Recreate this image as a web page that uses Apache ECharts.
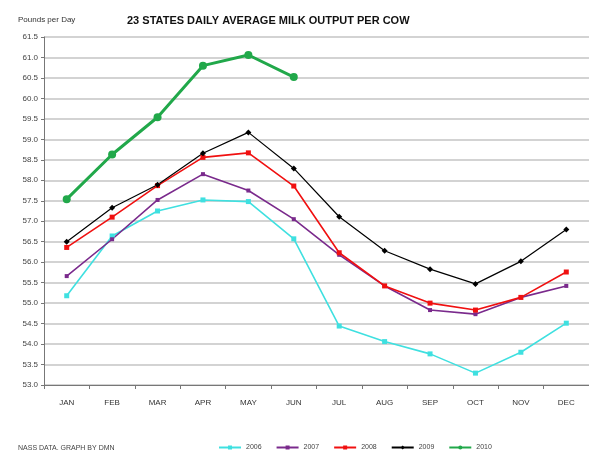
<!DOCTYPE html>
<html>
<head>
<meta charset="utf-8">
<script src="https://cdn.jsdelivr.net/npm/echarts@6/dist/echarts.min.js"></script>
<style>
  html, body { margin: 0; padding: 0; background: #fff; }
  #chart { width: 589px; height: 450px; }
</style>
</head>
<body>
<div id="chart"></div>
<script>
// months on the x axis
const months = ["JAN", "FEB", "MAR", "APR", "MAY", "JUN", "JUL", "AUG", "SEP", "OCT", "NOV", "DEC"];

// pounds per day
const y2006 = [55.18, 56.64, 57.25, 57.52, 57.48, 56.57, 54.44, 54.06, 53.76, 53.29, 53.80, 54.51];
const y2007 = [55.66, 56.56, 57.52, 58.15, 57.75, 57.05, 56.18, 55.42, 54.83, 54.73, 55.14, 55.42];
const y2008 = [56.36, 57.10, 57.87, 58.56, 58.67, 57.86, 56.23, 55.42, 55.00, 54.83, 55.14, 55.76];
const y2009 = [56.50, 57.33, 57.89, 58.66, 59.17, 58.29, 57.11, 56.28, 55.83, 55.47, 56.02, 56.80];
const y2010 = [57.54, 58.63, 59.54, 60.80, 61.06, 60.52];

const chart = echarts.init(document.getElementById("chart"));
const font = "Liberation Sans, Arial, sans-serif";

function line(name, data, color, symbol, size, width) {
  return {
    name: name,
    type: "line",
    data: data,
    symbol: symbol,
    symbolSize: size,
    showSymbol: true,
    lineStyle: { color: color, width: width },
    itemStyle: { color: color },
    emphasis: { disabled: true },
    animation: false,
  };
}

chart.setOption({
  animation: false,
  textStyle: { fontFamily: font },
  title: [
    {
      text: "23 STATES DAILY AVERAGE MILK OUTPUT PER COW",
      left: 122,
      top: 10,
      textStyle: { fontSize: 11, fontWeight: "bold", color: "#111", fontFamily: font },
    },
    {
      text: "Pounds per Day",
      left: 13,
      top: 11,
      textStyle: { fontSize: 8, fontWeight: "normal", color: "#333", fontFamily: font },
    },
    {
      text: "NASS DATA, GRAPH BY DMN",
      left: 13,
      top: 440,
      textStyle: { fontSize: 7, fontWeight: "normal", color: "#444", fontFamily: font },
    },
  ],
  legend: {
    left: 213,
    top: 439,
    itemWidth: 22,
    itemHeight: 5,
    itemGap: 14,
    textStyle: { fontSize: 7, color: "#444", fontFamily: font },
    data: ["2006", "2007", "2008", "2009", "2010"],
  },
  grid: { left: 44, right: -3, top: 37, bottom: 65 },
  xAxis: {
    type: "category",
    data: months,
    boundaryGap: true,
    axisLine: { lineStyle: { color: "#777", width: 1 } },
    axisTick: { show: true, length: 4, lineStyle: { color: "#777" } },
    axisLabel: { fontSize: 8, color: "#333", margin: 14 },
  },
  yAxis: {
    type: "value",
    min: 53,
    max: 61.5,
    interval: 0.5,
    axisLine: { show: true, lineStyle: { color: "#777", width: 1 } },
    axisTick: { show: true, length: 3, lineStyle: { color: "#777" } },
    axisLabel: {
      fontSize: 8,
      color: "#444",
      margin: 6,
      formatter: (v) => v.toFixed(1),
    },
    splitLine: { lineStyle: { color: "#c4c4c4", width: 1.5 } },
  },
  series: [
    line("2006", y2006, "#3fe0e0", "rect", 5, 1.6),
    line("2007", y2007, "#7a2a8c", "rect", 4, 1.6),
    line("2008", y2008, "#f01010", "rect", 5, 1.6),
    line("2009", y2009, "#000000", "diamond", 6, 1.2),
    line("2010", y2010, "#21a84a", "circle", 8, 3),
  ],
});
</script>
</body>
</html>
